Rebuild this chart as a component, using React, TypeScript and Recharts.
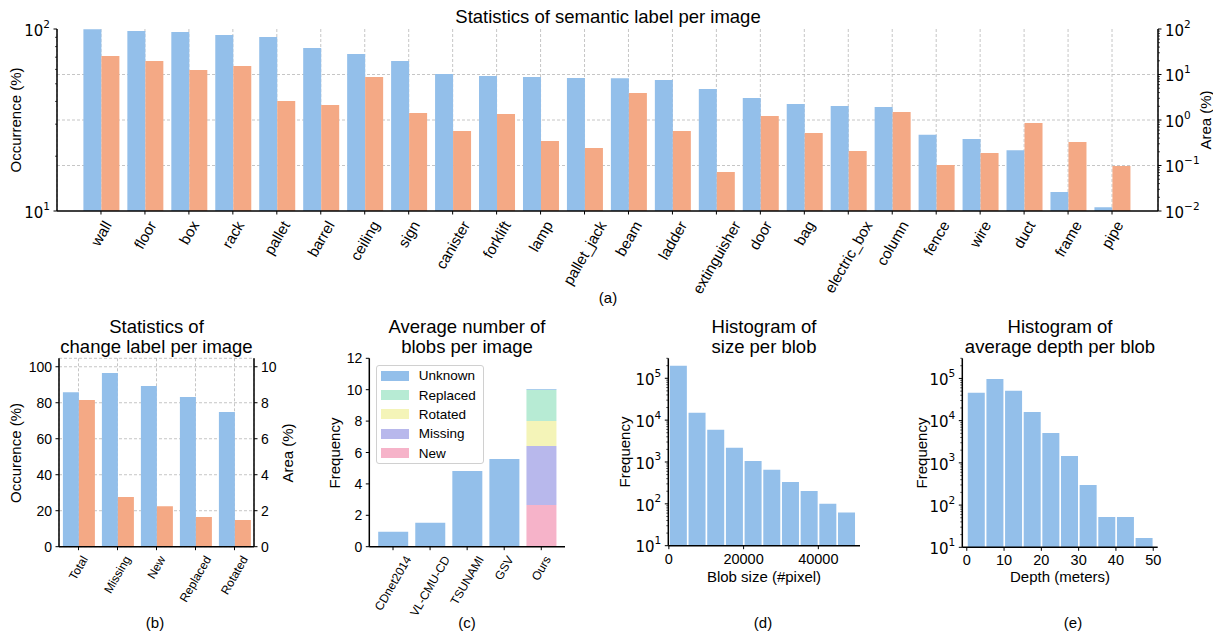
import React from "react";
import { Bar, BarChart, CartesianGrid, Legend, XAxis, YAxis } from "recharts";

const FONT = "'Liberation Sans', Arial, Helvetica, sans-serif";
const MATH_FONT = "'DejaVu Sans', sans-serif";
const BLUE = "#93bfea";
const ORANGE = "#f4a985";
const GRID = "#b8b8b8";
const AXIS = { stroke: "#000", strokeWidth: 1.5 };
const TICK = { stroke: "#000", strokeWidth: 1 };

// (a) semantic labels
const semanticLabels = [
  "wall", "floor", "box", "rack", "pallet", "barrel", "ceiling", "sign",
  "canister", "forklift", "lamp", "pallet_jack", "beam", "ladder", "extinguisher",
  "door", "bag", "electric_box", "column", "fence", "wire", "duct", "frame", "pipe"
];
const semanticOccurrence = [
  99.8, 97.5, 96.3, 92.7, 90.3, 78.6, 72.9, 66.7, 56.6, 55.2, 54.5, 53.8,
  53.6, 52.5, 46.8, 41.8, 38.7, 37.8, 37.3, 26.2, 24.9, 21.6, 12.7, 10.5
];
const semanticArea = [
  25.5, 19.8, 12.6, 15.4, 2.6, 2.14, 8.8, 1.43, 0.57, 1.36, 0.345, 0.243,
  3.92, 0.57, 0.072, 1.22, 0.52, 0.209, 1.5, 0.103, 0.188, 0.86, 0.33, 0.098
];

// (b) change labels
const changeLabels = ["Total", "Missing", "New", "Replaced", "Rotated"];
const changeOccurrence = [85.9, 96.5, 89.3, 83.2, 74.8];
const changeArea = [8.15, 2.76, 2.25, 1.65, 1.48];
const changeLeftTicks = [0, 20, 40, 60, 80, 100];
const changeRightTicks = [0, 2, 4, 6, 8, 10];

// (c) blobs per image
const datasets = ["CDnet2014", "VL-CMU-CD", "TSUNAMI", "GSV", "Ours"];
const unknownBlobs = [0.95, 1.53, 4.82, 5.58, 0.05];
const newBlobs = [0, 0, 0, 0, 2.65];
const missingBlobs = [0, 0, 0, 0, 3.76];
const rotatedBlobs = [0, 0, 0, 0, 1.6];
const replacedBlobs = [0, 0, 0, 0, 1.98];
const blobTicks = [0, 2, 4, 6, 8, 10, 12];
const legendOrder = ["Unknown", "Replaced", "Rotated", "Missing", "New"];

// (d) blob size histogram
const sizeBins = [2500, 7500, 12500, 17500, 22500, 27500, 32500, 37500, 42500, 47500];
const sizeCounts = [200000, 15000, 5900, 2200, 1060, 650, 334, 203, 100, 62];
const sizeTicks = [0, 20000, 40000];

// (e) depth histogram
const depthBins = [2.5, 7.5, 12.5, 17.5, 22.5, 27.5, 32.5, 37.5, 42.5, 47.5];
const depthCounts = [46000, 97000, 51000, 16000, 5100, 1460, 300, 52, 52, 16.6];
const depthTicks = [0, 10, 20, 30, 40, 50];

const semanticData = semanticLabels.map((label, i) => ({
  label,
  occurrence: semanticOccurrence[i],
  area: semanticArea[i]
}));
const changeData = changeLabels.map((label, i) => ({
  label,
  occurrence: changeOccurrence[i],
  area: changeArea[i]
}));
const blobData = datasets.map((name, i) => ({
  name,
  unknown: unknownBlobs[i],
  replaced: replacedBlobs[i],
  rotated: rotatedBlobs[i],
  missing: missingBlobs[i],
  added: newBlobs[i]
}));
const sizeData = sizeBins.map((center, i) => ({ center, count: sizeCounts[i] }));
const depthData = depthBins.map((center, i) => ({ center, count: depthCounts[i] }));

// major + minor ticks of a log axis
const logTicks = (minExp: number, maxExp: number, limit: number) => {
  const out: number[] = [];
  for (let e = minExp; e <= maxExp; e++) {
    for (let m = 1; m < 10; m++) {
      const v = Number((m * Math.pow(10, e)).toPrecision(6));
      if (v <= limit) out.push(v);
    }
  }
  return out;
};

const measureCtx =
  typeof document !== "undefined" ? document.createElement("canvas").getContext("2d") : null;
const textWidth = (text: string, size: number) => {
  if (!measureCtx) return text.length * size * 0.55;
  measureCtx.font = `${size}px ${FONT}`;
  return measureCtx.measureText(text).width;
};

// x label rotated 60 deg, box centred under the tick (matplotlib ha="center")
const RotatedTick = ({ x, y, payload, fontSize }: any) => {
  const text = String(payload.value);
  const rad = Math.PI / 3;
  const h = textWidth(text, fontSize) * Math.sin(rad) + fontSize * 1.1 * Math.cos(rad);
  const cy = y + h / 2;
  return (
    <text
      x={x}
      y={cy}
      transform={`rotate(-60 ${x} ${cy})`}
      textAnchor="middle"
      dominantBaseline="central"
      fontSize={fontSize}
      fontFamily={FONT}
      fill="#000"
    >
      {text}
    </text>
  );
};

// plain numeric tick label
const NumTick = ({ x, y, payload, side, fontSize = 14 }: any) => {
  if (side === "bottom") {
    return (
      <text x={x} y={y + fontSize * 0.76} textAnchor="middle" fontSize={fontSize} fontFamily={FONT} fill="#000">
        {payload.value}
      </text>
    );
  }
  return (
    <text
      x={x}
      y={y + fontSize * 0.36}
      textAnchor={side === "left" ? "end" : "start"}
      fontSize={fontSize}
      fontFamily={FONT}
      fill="#000"
    >
      {payload.value}
    </text>
  );
};

// log-axis tick: long mark + 10^n label on decades, short mark otherwise
const LogTick = ({ x, y, payload, side, fontSize = 15 }: any) => {
  const v = Number(payload.value);
  const lg = Math.log10(v);
  const exp = Math.round(lg);
  const major = Math.abs(lg - exp) < 1e-6;
  const dir = side === "left" ? -1 : 1;
  const exponent = exp < 0 ? `\u2212${-exp}` : String(exp);
  return (
    <g>
      <line
        x1={x}
        y1={y}
        x2={x + dir * (major ? 3.5 : 2)}
        y2={y}
        stroke="#000"
        strokeWidth={major ? 1 : 0.7}
      />
      {major && (
        <text
          x={x + dir * 7}
          y={y + fontSize * 0.45}
          textAnchor={side === "left" ? "end" : "start"}
          fontSize={fontSize}
          fontFamily={MATH_FONT}
          fill="#000"
        >
          10
          <tspan dy={-fontSize * 0.55} fontSize={fontSize * 0.7}>
            {exponent}
          </tspan>
        </text>
      )}
    </g>
  );
};

const Caption = ({ x, y, text, size = 15, rotate = 0 }: any) => (
  <div
    style={{
      position: "absolute",
      left: x,
      top: y,
      transform: `translate(-50%, -50%) rotate(${rotate}deg)`,
      fontSize: size,
      lineHeight: "20px",
      whiteSpace: "pre",
      textAlign: "center",
      color: "#000"
    }}
  >
    {text}
  </div>
);

const BlobLegend = ({ payload }: any) => {
  const items = legendOrder
    .map((name) => (payload || []).find((p: any) => p.value === name))
    .filter(Boolean);
  return (
    <div
      style={{
        border: "1px solid #d0d0d0",
        borderRadius: 3,
        background: "#fff",
        padding: "0 4px",
        width: 98,
        fontFamily: FONT
      }}
    >
      {items.map((p: any) => (
        <div key={p.value} style={{ display: "flex", alignItems: "center", height: 19.4 }}>
          <span style={{ width: 28, height: 10, background: p.color, marginRight: 10 }} />
          <span style={{ fontSize: 13.5, color: "#000" }}>{p.value}</span>
        </div>
      ))}
    </div>
  );
};

export default function App() {
  return (
    <div
      style={{
        position: "absolute",
        left: 0,
        top: 0,
        width: 1213,
        height: 633,
        background: "#fff",
        fontFamily: FONT,
        overflow: "hidden"
      }}
    >
      {/* (a) */}
      <div style={{ position: "absolute", left: 0, top: 0 }}>
        <BarChart
          width={1213}
          height={300}
          data={semanticData}
          margin={{ top: 29, right: 0, bottom: 0, left: 0 }}
          barCategoryGap="10%"
          barGap={0}
        >
          <CartesianGrid
            yAxisId="right"
            horizontalValues={[0.1, 1, 10]}
            stroke={GRID}
            strokeDasharray="3 2"
            strokeWidth={0.8}
          />
          <XAxis
            dataKey="label"
            interval={0}
            padding={{ left: 22, right: 24 }}
            height={89}
            tickSize={3.5}
            tickMargin={3.5}
            axisLine={AXIS}
            tickLine={TICK}
            tick={(p: any) => <RotatedTick {...p} fontSize={15} />}
          />
          <XAxis
            xAxisId="top"
            orientation="top"
            dataKey="label"
            height={0}
            tick={false}
            tickLine={false}
            axisLine={AXIS}
          />
          <YAxis
            yAxisId="left"
            type="number"
            scale="log"
            domain={[10, 100]}
            allowDataOverflow
            ticks={logTicks(1, 2, 100)}
            interval={0}
            width={57}
            tickSize={0}
            tickMargin={0}
            tickLine={false}
            axisLine={AXIS}
            tick={(p: any) => <LogTick {...p} side="left" />}
          />
          <YAxis
            yAxisId="right"
            orientation="right"
            type="number"
            scale="log"
            domain={[0.01, 100]}
            allowDataOverflow
            ticks={logTicks(-2, 2, 100)}
            interval={0}
            width={55}
            tickSize={0}
            tickMargin={0}
            tickLine={false}
            axisLine={AXIS}
            tick={(p: any) => <LogTick {...p} side="right" />}
          />
          <Bar yAxisId="left" dataKey="occurrence" fill={BLUE} isAnimationActive={false} />
          <Bar yAxisId="right" dataKey="area" fill={ORANGE} isAnimationActive={false} />
        </BarChart>
      </div>

      {/* (b) */}
      <div style={{ position: "absolute", left: 0, top: 300 }}>
        <BarChart
          width={310}
          height={333}
          data={changeData}
          margin={{ top: 58.3, right: 0, bottom: 0, left: 0 }}
          barCategoryGap="10%"
          barGap={0}
        >
          <CartesianGrid
            yAxisId="left"
            stroke={GRID}
            strokeDasharray="3 2"
            strokeWidth={0.8}
          />
          <XAxis
            dataKey="label"
            interval={0}
            height={86.3}
            tickSize={3.5}
            tickMargin={3.5}
            axisLine={AXIS}
            tickLine={TICK}
            tick={(p: any) => <RotatedTick {...p} fontSize={12} />}
          />
          <XAxis
            xAxisId="top"
            orientation="top"
            dataKey="label"
            height={0}
            tick={false}
            tickLine={false}
            axisLine={AXIS}
          />
          <YAxis
            yAxisId="left"
            type="number"
            domain={[0, 104.7]}
            allowDataOverflow
            ticks={changeLeftTicks}
            interval={0}
            width={59}
            tickSize={3.5}
            tickMargin={3.5}
            axisLine={AXIS}
            tickLine={TICK}
            tick={(p: any) => <NumTick {...p} side="left" />}
          />
          <YAxis
            yAxisId="right"
            orientation="right"
            type="number"
            domain={[0, 10.47]}
            allowDataOverflow
            ticks={changeRightTicks}
            interval={0}
            width={56}
            tickSize={3.5}
            tickMargin={3.5}
            axisLine={AXIS}
            tickLine={TICK}
            tick={(p: any) => <NumTick {...p} side="right" />}
          />
          <Bar yAxisId="left" dataKey="occurrence" fill={BLUE} isAnimationActive={false} />
          <Bar yAxisId="right" dataKey="area" fill={ORANGE} isAnimationActive={false} />
        </BarChart>
      </div>

      {/* (c) */}
      <div style={{ position: "absolute", left: 310, top: 300 }}>
        <BarChart
          width={290}
          height={333}
          data={blobData}
          margin={{ top: 58.3, right: 35, bottom: 0, left: 0 }}
          barCategoryGap="10%"
        >
          <XAxis
            dataKey="name"
            interval={0}
            padding={{ left: 5.2, right: 5.2 }}
            height={86.3}
            tickSize={3.5}
            tickMargin={3.5}
            axisLine={AXIS}
            tickLine={TICK}
            tick={(p: any) => <RotatedTick {...p} fontSize={12} />}
          />
          <XAxis
            xAxisId="top"
            orientation="top"
            dataKey="name"
            height={0}
            tick={false}
            tickLine={false}
            axisLine={AXIS}
          />
          <YAxis
            type="number"
            domain={[0, 12]}
            allowDataOverflow
            ticks={blobTicks}
            interval={0}
            width={59.3}
            tickSize={3.5}
            tickMargin={3.5}
            axisLine={AXIS}
            tickLine={TICK}
            tick={(p: any) => <NumTick {...p} side="left" />}
          />
          <YAxis
            yAxisId="frame"
            orientation="right"
            type="number"
            domain={[0, 1]}
            width={0}
            tick={false}
            tickLine={false}
            axisLine={AXIS}
          />
          <Legend
            layout="vertical"
            align="center"
            verticalAlign="middle"
            content={BlobLegend}
            wrapperStyle={{ left: 65.7, top: 65, width: 108 }}
          />
          <Bar dataKey="added" name="New" stackId="blobs" fill="#f6b3c9" isAnimationActive={false} />
          <Bar dataKey="missing" name="Missing" stackId="blobs" fill="#b8b8ec" isAnimationActive={false} />
          <Bar dataKey="rotated" name="Rotated" stackId="blobs" fill="#f4f4b8" isAnimationActive={false} />
          <Bar dataKey="replaced" name="Replaced" stackId="blobs" fill="#b7ebd4" isAnimationActive={false} />
          <Bar dataKey="unknown" name="Unknown" stackId="blobs" fill={BLUE} isAnimationActive={false} />
        </BarChart>
      </div>

      {/* (d) */}
      <div style={{ position: "absolute", left: 600, top: 300 }}>
        <BarChart
          width={300}
          height={333}
          data={sizeData}
          margin={{ top: 58.3, right: 40, bottom: 0, left: 0 }}
          barCategoryGap={1}
        >
          <XAxis
            dataKey="center"
            type="number"
            domain={[-150, 51150]}
            allowDataOverflow
            ticks={sizeTicks}
            interval={0}
            height={87.3}
            tickSize={3.5}
            tickMargin={3.5}
            axisLine={AXIS}
            tickLine={TICK}
            tick={(p: any) => <NumTick {...p} side="bottom" fontSize={14.5} />}
          />
          <XAxis
            xAxisId="top"
            orientation="top"
            dataKey="center"
            type="number"
            domain={[-150, 51150]}
            height={0}
            tick={false}
            tickLine={false}
            axisLine={AXIS}
          />
          <YAxis
            type="number"
            scale="log"
            domain={[10, 300000]}
            allowDataOverflow
            ticks={logTicks(1, 5, 300000)}
            interval={0}
            width={68.3}
            tickSize={0}
            tickMargin={0}
            tickLine={false}
            axisLine={AXIS}
            tick={(p: any) => <LogTick {...p} side="left" />}
          />
          <YAxis
            yAxisId="frame"
            orientation="right"
            type="number"
            domain={[0, 1]}
            width={0}
            tick={false}
            tickLine={false}
            axisLine={AXIS}
          />
          <Bar dataKey="count" fill={BLUE} isAnimationActive={false} />
        </BarChart>
      </div>

      {/* (e) */}
      <div style={{ position: "absolute", left: 900, top: 300 }}>
        <BarChart
          width={313}
          height={333}
          data={depthData}
          margin={{ top: 58.3, right: 55.3, bottom: 0, left: 0 }}
          barCategoryGap={1}
        >
          <XAxis
            dataKey="center"
            type="number"
            domain={[-1.2, 51.2]}
            allowDataOverflow
            ticks={depthTicks}
            interval={0}
            height={85.7}
            tickSize={3.5}
            tickMargin={3.5}
            axisLine={AXIS}
            tickLine={TICK}
            tick={(p: any) => <NumTick {...p} side="bottom" fontSize={14.5} />}
          />
          <XAxis
            xAxisId="top"
            orientation="top"
            dataKey="center"
            type="number"
            domain={[-1.2, 51.2]}
            height={0}
            tick={false}
            tickLine={false}
            axisLine={AXIS}
          />
          <YAxis
            type="number"
            scale="log"
            domain={[10, 300000]}
            allowDataOverflow
            ticks={logTicks(1, 5, 300000)}
            interval={0}
            width={62.3}
            tickSize={0}
            tickMargin={0}
            tickLine={false}
            axisLine={AXIS}
            tick={(p: any) => <LogTick {...p} side="left" />}
          />
          <YAxis
            yAxisId="frame"
            orientation="right"
            type="number"
            domain={[0, 1]}
            width={0}
            tick={false}
            tickLine={false}
            axisLine={AXIS}
          />
          <Bar dataKey="count" fill={BLUE} isAnimationActive={false} />
        </BarChart>
      </div>

      <Caption x={608} y={17} text="Statistics of semantic label per image" size={18.5} />
      <Caption x={16} y={120} text="Occurrence (%)" rotate={-90} />
      <Caption x={1206} y={120} text="Area (%)" rotate={-90} />
      <Caption x={608} y={298} text="(a)" />

      <Caption x={156.5} y={337} text={"Statistics of\nchange label per image"} size={18.5} />
      <Caption x={16} y={452.5} text="Occurence (%)" rotate={-90} />
      <Caption x={288} y={452.5} text="Area (%)" rotate={-90} />
      <Caption x={155} y={623} text="(b)" />

      <Caption x={467} y={337} text={"Average number of\nblobs per image"} size={18.5} />
      <Caption x={335} y={452.5} text="Frequency" rotate={-90} />
      <Caption x={467} y={623} text="(c)" />

      <Caption x={764} y={337} text={"Histogram of\nsize per blob"} size={18.5} />
      <Caption x={625} y={452} text="Frequency" rotate={-90} />
      <Caption x={764} y={577} text="Blob size (#pixel)" />
      <Caption x={763} y={623} text="(d)" />

      <Caption x={1060} y={337} text={"Histogram of\naverage depth per blob"} size={18.5} />
      <Caption x={922} y={453} text="Frequency" rotate={-90} />
      <Caption x={1060} y={577} text="Depth (meters)" />
      <Caption x={1073} y={623} text="(e)" />
    </div>
  );
}
